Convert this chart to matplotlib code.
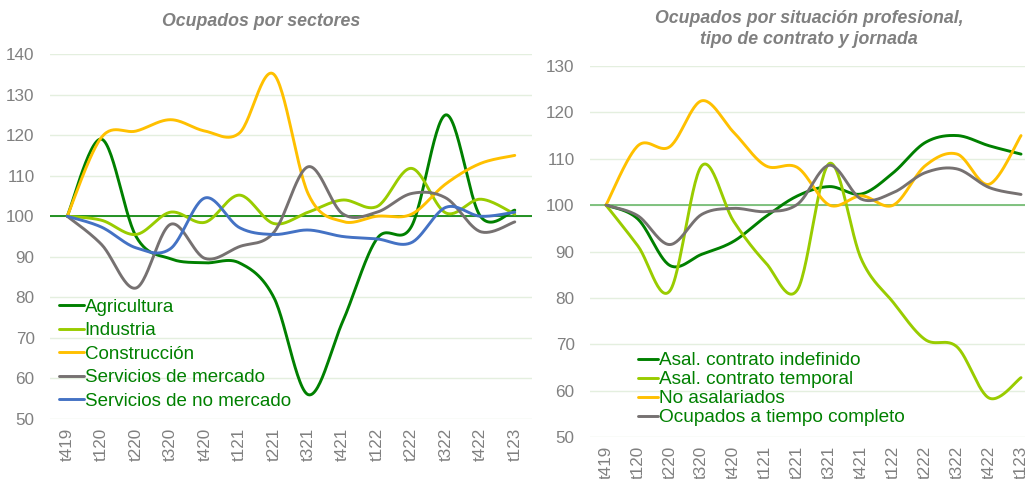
"""Ocupados por sectores / por situación profesional (índices, t419 = 100)."""

import matplotlib
matplotlib.use('Agg')
import matplotlib.pyplot as plt
import numpy as np

plt.rcParams['font.family'] = ['Liberation Sans', 'DejaVu Sans']

QUARTERS = ['t419', 't120', 't220', 't320', 't420', 't121', 't221', 't321',
            't421', 't122', 't222', 't322', 't422', 't123']

# Ocupados por sectores
AGRICULTURA = [100, 119, 95, 89.5, 88.5, 88.5, 80, 56, 74, 94.5, 97.5, 125, 100, 101.5]
INDUSTRIA = [100, 99, 95.5, 101, 98.5, 105.2, 98.2, 101, 104, 102.4, 111.8, 100.8, 104.2, 100.5]
CONSTRUCCION = [100, 119.5, 121, 123.8, 121, 120.5, 135, 105.5, 98.7, 100, 100.5, 108, 113, 115]
SERV_MERCADO = [100, 93, 82.3, 98, 89.6, 92.5, 96, 112.2, 100.6, 101, 105.6, 104.5, 96.2, 98.6]
SERV_NO_MERCADO = [100, 97.3, 92.2, 92, 104.5, 97.2, 95.5, 96.6, 95, 94.4, 93.5, 102.2, 100, 101]

# Ocupados por situación profesional, tipo de contrato y jornada
INDEFINIDO = [100, 97, 87, 89.4, 92.2, 97.5, 102, 104, 102.4, 107, 113.5, 115, 112.8, 111]
TEMPORAL = [100, 91.2, 81.5, 108.5, 96.5, 87.6, 81.8, 109, 88.3, 79, 71, 69.4, 58.4, 62.8]
NO_ASALARIADOS = [100, 112.8, 112.6, 122.5, 115.7, 108.5, 108.1, 100, 102, 100, 108.5, 111, 104.5, 115]
TIEMPO_COMPLETO = [100, 97.7, 91.5, 98, 99.3, 98.6, 100.2, 108.6, 101.3, 102.7, 107, 107.8, 103.8, 102.3]

LEFT_SERIES = [
    ('Agricultura', AGRICULTURA, '#008000'),
    ('Industria', INDUSTRIA, '#99CC00'),
    ('Construcción', CONSTRUCCION, '#FFC000'),
    ('Servicios de mercado', SERV_MERCADO, '#767171'),
    ('Servicios de no mercado', SERV_NO_MERCADO, '#4472C4'),
]
RIGHT_SERIES = [
    ('Asal. contrato indefinido', INDEFINIDO, '#008000'),
    ('Asal. contrato temporal', TEMPORAL, '#99CC00'),
    ('No asalariados', NO_ASALARIADOS, '#FFC000'),
    ('Ocupados a tiempo completo', TIEMPO_COMPLETO, '#767171'),
]

GRAY = '#808080'
GRID = '#E4EFDF'
LEGEND_GREEN = '#008000'


def smooth(values, steps=30):
    """Curva suavizada tipo Excel (Bezier Catmull-Rom) entre los puntos."""
    y = np.asarray(values, dtype=float)
    x = np.arange(len(y), dtype=float)
    pts = np.column_stack([x, y])
    padded = np.vstack([pts[0], pts, pts[-1]])
    t = np.linspace(0, 1, steps)[:, None]
    out = []
    for i in range(len(pts) - 1):
        p0, p3 = padded[i + 1], padded[i + 2]
        c1 = p0 + (padded[i + 2] - padded[i]) / 6
        c2 = p3 - (padded[i + 3] - padded[i + 1]) / 6
        seg = ((1 - t) ** 3) * p0 + 3 * ((1 - t) ** 2) * t * c1 \
            + 3 * (1 - t) * t ** 2 * c2 + t ** 3 * p3
        out.append(seg if i == 0 else seg[1:])
    curve = np.vstack(out)
    return curve[:, 0], curve[:, 1]


def style_axes(ax, ymin, ymax, ref_color, ytick_pad):
    ax.set_xlim(-0.5, len(QUARTERS) - 0.5)
    ax.set_ylim(ymin, ymax)
    ax.set_yticks(np.arange(ymin, ymax + 1, 10))
    ax.set_xticks(range(len(QUARTERS)))
    ax.set_xticklabels(QUARTERS, rotation=90)
    ax.tick_params(axis='both', length=0, labelsize=12.3, labelcolor=GRAY)
    ax.tick_params(axis='y', pad=ytick_pad)
    ax.tick_params(axis='x', pad=6.5)
    for spine in ax.spines.values():
        spine.set_visible(False)
    ax.grid(axis='y', color=GRID, linewidth=1.0)
    ax.set_axisbelow(True)
    ax.axhline(100, color=ref_color, linewidth=1.2, zorder=1)


def draw(ax, series):
    for label, values, color in series:
        xs, ys = smooth(values)
        ax.plot(xs, ys, color=color, linewidth=2.1, label=label,
                solid_capstyle='round', zorder=3)


fig = plt.figure(figsize=(10.25, 4.79), dpi=100)

ax1 = fig.add_axes([50 / 1025, 60 / 479, 482 / 1025, 365 / 479])
style_axes(ax1, 50, 140, '#008000', 11)
draw(ax1, LEFT_SERIES)
leg1 = ax1.legend(loc='upper left', bbox_to_anchor=(0.0, 0.355), frameon=False,
                  fontsize=13.5, handlelength=1.3, handletextpad=0.05,
                  labelspacing=0.34, borderpad=0.2, borderaxespad=0.3)
for text in leg1.get_texts():
    text.set_color(LEGEND_GREEN)

ax2 = fig.add_axes([590 / 1025, 42 / 479, 447 / 1025, 371 / 479])
style_axes(ax2, 50, 130, '#6CB86C', 11)
draw(ax2, RIGHT_SERIES)
leg2 = ax2.legend(loc='upper left', bbox_to_anchor=(0.085, 0.255), frameon=False,
                  fontsize=13.7, handlelength=1.1, handletextpad=0.05,
                  labelspacing=0.09, borderpad=0.2, borderaxespad=0.3)
for text in leg2.get_texts():
    text.set_color(LEGEND_GREEN)

fig.text(261 / 1025, 1 - 22 / 479, 'Ocupados por sectores', ha='center',
         va='center', fontsize=12.8, fontweight='bold', fontstyle='italic',
         color=GRAY)
fig.text(809 / 1025, 1 - 29 / 479,
         'Ocupados por situación profesional,\ntipo de contrato y jornada',
         ha='center', va='center', fontsize=12.8, fontweight='bold',
         fontstyle='italic', color=GRAY, linespacing=1.25)

fig.savefig('out.png', dpi=100)
